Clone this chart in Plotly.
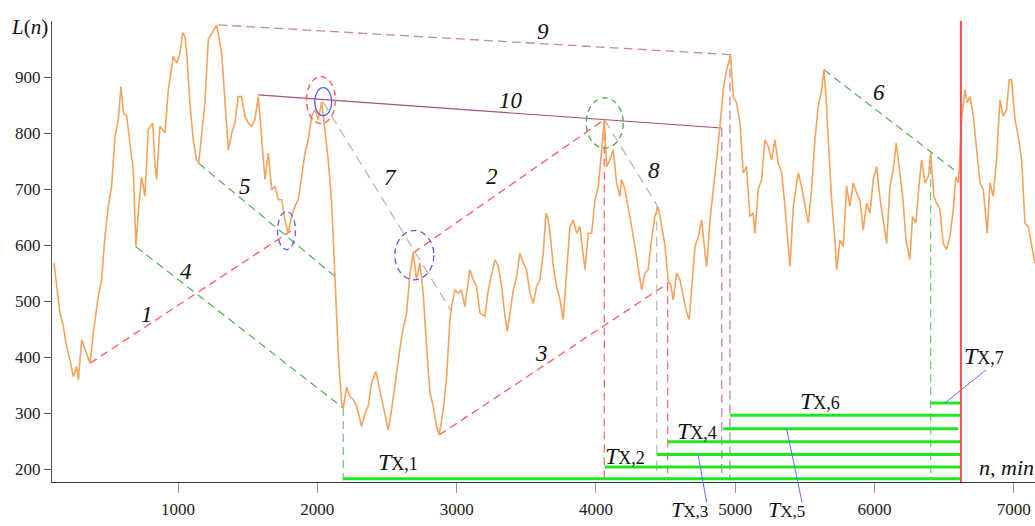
import plotly.graph_objects as go

# ---------------- data ----------------
n_vals = [109,128,152,176,200,224,248,272,284,308,332,368,391,427,451,475,499,523,547,571,590,607,631,655,678,698,714,738,762,786,818,834,846,870,906,930,966,990,1014,1033,1050,1062,1085,1109,1133,1148,1169,1193,1217,1253,
          1277,1313,1337,1361,1385,1408,1432,1456,1480,1504,1528,1552,1576,1600,1624,1648,1672,1696,1720,1744,1767,1791,1815,1839,1863,1887,1911,1935,1959,1983,2007,2031,2047,2067,2078,2103,2126,2150,2174,2186,2210,2234,2258,2282,2318,2342,2365,2389,2420,2449,
          2473,2509,2533,2569,2605,2641,2665,2688,2712,2736,2760,2784,2808,2832,2856,2875,2904,2928,2952,2964,2988,3011,3035,3059,3095,3119,3143,3167,3203,3227,3251,3275,3299,3323,3347,3363,3383,3407,3431,3454,3478,3502,3526,3550,3574,3598,3622,3641,3658,
          3670,3694,3718,3742,3765,3789,3813,3837,3861,3885,3909,3921,3945,3969,3993,4017,4041,4060,4076,4100,4124,4148,4172,4184,4208,4232,4256,4280,4304,4328,4352,4375,4399,4423,4447,4471,4495,4519,4536,4555,4579,4603,4627,4651,4670,4687,4711,4735,4759,4783,4795,4819,4842,4866,4890,4914,4938,4967,
          4986,5010,5034,5057,5081,5105,5129,5141,5165,5189,5213,5237,5261,5285,5309,5333,5357,5369,5393,5417,5452,5476,5500,5524,5548,5572,5596,5620,5637,5656,5668,5692,5716,5728,5752,5776,5799,5823,5847,5871,5895,5919,5943,5967,5991,6015,
          6039,6063,6087,6110,6134,6156,6180,6202,6226,6254,6273,6297,6321,6338,6362,6386,6403,6426,6446,6469,6493,6517,6541,6565,6584,6603,6625,6649,6666,6685,6709,6733,6757,6781,6809,6829,6852,6876,6900,6924,6948,6967,6984,7008,7032,7056,7080,7104,7128,7151]
L_vals = [568,526,479,455,419,395,365,383,359,431,413,389,443,508,538,615,669,705,794,824,883,836,830,776,734,597,657,722,687,806,818,746,717,812,800,877,937,925,943,979,972,943,854,788,752,746,794,854,967,984,
          993,943,854,770,800,818,865,865,830,818,812,824,865,794,717,764,699,705,681,681,645,621,651,669,681,722,764,788,830,842,824,856,824,776,752,675,544,407,318,309,347,330,324,312,276,300,312,354,374,340,
          306,270,306,371,437,479,550,586,538,568,514,419,336,312,276,261,306,365,467,490,520,514,520,490,556,538,526,479,473,520,550,574,562,526,473,446,479,520,544,586,568,556,514,496,526,538,586,657,645,
          621,562,526,502,467,550,633,645,621,633,586,556,621,621,681,705,770,824,740,752,770,711,687,717,699,669,633,597,556,520,550,556,609,651,669,633,600,535,530,502,550,538,508,479,467,520,597,615,645,586,562,645,693,752,812,877,913,937,
          865,854,818,729,740,651,657,621,699,717,788,776,752,788,746,729,669,633,562,669,729,705,675,639,699,788,848,877,913,848,788,681,609,556,609,597,705,669,711,693,681,627,675,657,717,740,
          684,639,603,702,735,782,737,687,609,574,651,639,711,752,711,722,764,687,675,663,603,592,615,663,722,711,824,877,854,865,830,764,711,699,621,711,687,752,859,830,842,895,895,824,794,752,639,633,603,568]

x_ticks = [1000, 2000, 3000, 4000, 5000, 6000, 7000]
y_ticks = [200, 300, 400, 500, 600, 700, 800, 900]

# construction lines: (n0, L0, n1, L1)
red_lines = [(368, 389, 1810, 625), (2688, 586, 4060, 824), (2875, 261, 4519, 532)]
green_lines = [(698, 597, 2186, 309), (1148, 746, 2126, 544), (5637, 913, 6620, 725)]
grey_lines = [(2040, 856, 2959, 483), (4060, 824, 4436, 672)]
pink_lines = [(1289, 993, 4967, 940)]
line10 = [(1576, 868, 4903, 809)]

# vertical drops (n, from L)
v_green = [(2186, 309), (6403, 764)]
v_red = [(4060, 824), (4515, 532)]
v_grey = [(4436, 672)]
v_pink = [(4903, 809), (4962, 940)]
v_bottom = 180
n_now = 6620

# T_X horizontal segments: (start n, level, end n)
tx_start = [2186, 4064, 4436, 4515, 4914, 4962, 6405]
tx_level = [183, 204, 226, 249, 272, 296, 318]
tx_end = [6620, 6620, 6620, 6620, 6601, 6620, 6620]

# ellipses: (n0, n1, L0, L1)
ell_red = [(1922, 2130, 817, 901)]
ell_blue_solid = [(1981, 2103, 831, 881)]
ell_blue_dash = [(1714, 1843, 592, 660), (2556, 2836, 538, 626)]
ell_green = [(3930, 4196, 773, 863)]

num_labels = ["1", "4", "5", "9", "10", "7", "2", "3", "8", "6"]
num_n = [779, 1055, 1480, 3622, 3388, 2528, 3256, 3612, 4419, 6032]
num_L = [476, 552, 705, 981, 858, 720, 722, 407, 733, 872]

XR = [95, 7152]
YR = [177, 1000]

SERIF = "Liberation Serif, Times New Roman, serif"

fig = go.Figure()

def seg(x0, y0, x1, y1, color, dash, width=1.3):
    fig.add_trace(go.Scatter(x=[x0, x1], y=[y0, y1], mode="lines",
                             line=dict(color=color, dash=dash, width=width),
                             hoverinfo="skip", showlegend=False))

for (a, b, c, d) in red_lines:
    seg(a, b, c, d, "#ff5c5c", "8px,5px")
for (a, b, c, d) in green_lines:
    seg(a, b, c, d, "#5db55d", "8px,5px")
for (a, b, c, d) in grey_lines:
    seg(a, b, c, d, "#b8b8b8", "10px,6px")
for (a, b, c, d) in pink_lines:
    seg(a, b, c, d, "#c985ab", "9px,5px")
for (a, b, c, d) in line10:
    seg(a, b, c, d, "#a5517f", "solid", 1.2)

for (n, L) in v_green:
    seg(n, L, n, v_bottom, "#7fc77f", "8px,5px")
for (n, L) in v_red:
    seg(n, L, n, v_bottom, "#ff7070", "8px,5px")
for (n, L) in v_grey:
    seg(n, L, n, v_bottom, "#c0c0c0", "10px,6px")
for (n, L) in v_pink:
    seg(n, L, n, v_bottom, "#c985ab", "9px,5px")

# the orange series
fig.add_trace(go.Scatter(x=n_vals, y=L_vals, mode="lines",
                         line=dict(color="#f5a35e", width=1.6),
                         hoverinfo="skip", showlegend=False))

# T_X levels
for s, lv, e in zip(tx_start, tx_level, tx_end):
    seg(s, lv, e, lv, "#1fe81f", "solid", 3)

# current-time line
seg(n_now, YR[0], n_now, YR[1], "#ff4d4d", "solid", 2)

shapes = []
def ell(lst, color, dash, width=1.3):
    for (a, b, c, d) in lst:
        shapes.append(dict(type="circle", xref="x", yref="y", x0=a, x1=b, y0=c, y1=d,
                           line=dict(color=color, dash=dash, width=width)))
ell(ell_red, "#ff6666", "6px,4px", 1.5)
ell(ell_blue_solid, "#5a5aff", "solid", 1.3)
ell(ell_blue_dash, "#5a5aff", "6px,4px", 1.3)
ell(ell_green, "#4fa84f", "6px,4px", 1.3)

def px(n):
    return (n - XR[0]) / (XR[1] - XR[0])
def py(L):
    return (L - YR[0]) / (YR[1] - YR[0])

# leader lines (paper coords so they can leave the plot area)
leaders = [(4734, 226, 4795, -0.045), (5369, 272, 5480, -0.045), (6505, 318, 6800, py(377))]
for (a, b, c, d) in leaders:
    shapes.append(dict(type="line", xref="paper", yref="paper",
                       x0=px(a), y0=py(b), x1=px(c), y1=d,
                       line=dict(color="#6a6aff", width=1)))

annotations = []
for t, n, L in zip(num_labels, num_n, num_L):
    annotations.append(dict(x=n, y=L, xref="x", yref="y", text="<i>%s</i>" % t,
                            xanchor="center", yanchor="middle",
                            showarrow=False, font=dict(family=SERIF, size=23, color="#111")))

def tx(k, sub=18):
    return "<i>T</i><span style='font-size:%dpx'>X,%d</span>" % (sub, k)

tx_pos = [(1, 2578, 213), (2, 4212, 223), (4, 4729, 268), (6, 5608, 322), (7, 6786, 402)]
for k, n, L in tx_pos:
    annotations.append(dict(x=n, y=L, xref="x", yref="y", text=tx(k), showarrow=False,
                            xanchor="center", yanchor="middle",
                            font=dict(family=SERIF, size=24, color="#111")))
for k, n in [(3, 4672), (5, 5365)]:
    annotations.append(dict(x=n, y=-0.06, xref="x", yref="paper", text=tx(k, 17), showarrow=False,
                            xanchor="center", yanchor="middle",
                            font=dict(family=SERIF, size=22, color="#111")))

annotations.append(dict(x=-0.0224, y=0.988, xref="paper", yref="paper",
                        text="<i>L</i>(<i>n</i>)", showarrow=False,
                        xanchor="center", yanchor="middle",
                        font=dict(family=SERIF, size=21, color="#111")))
annotations.append(dict(x=0.971, y=0.031, xref="paper", yref="paper",
                        text="<i>n, min</i>", showarrow=False,
                        xanchor="center", yanchor="middle",
                        font=dict(family=SERIF, size=22, color="#111")))

fig.update_layout(
    width=1035, height=526,
    margin=dict(l=52, r=0, t=21, b=44),
    paper_bgcolor="white", plot_bgcolor="white",
    shapes=shapes, annotations=annotations,
    font=dict(family=SERIF, size=17, color="#222"),
    xaxis=dict(range=XR, tickvals=x_ticks, ticks="outside", ticklen=10, tickcolor="#999",
               ticklabelstandoff=2,
               showline=True, linecolor="#333", linewidth=1, showgrid=False, zeroline=False,
               tickfont=dict(family=SERIF, size=17, color="#222")),
    yaxis=dict(range=YR, tickvals=y_ticks, ticks="outside", ticklen=7, tickcolor="#555",
               showline=True, linecolor="#555", linewidth=1, showgrid=False, zeroline=False,
               tickfont=dict(family=SERIF, size=17, color="#222")),
)

fig.write_html("out.html")
